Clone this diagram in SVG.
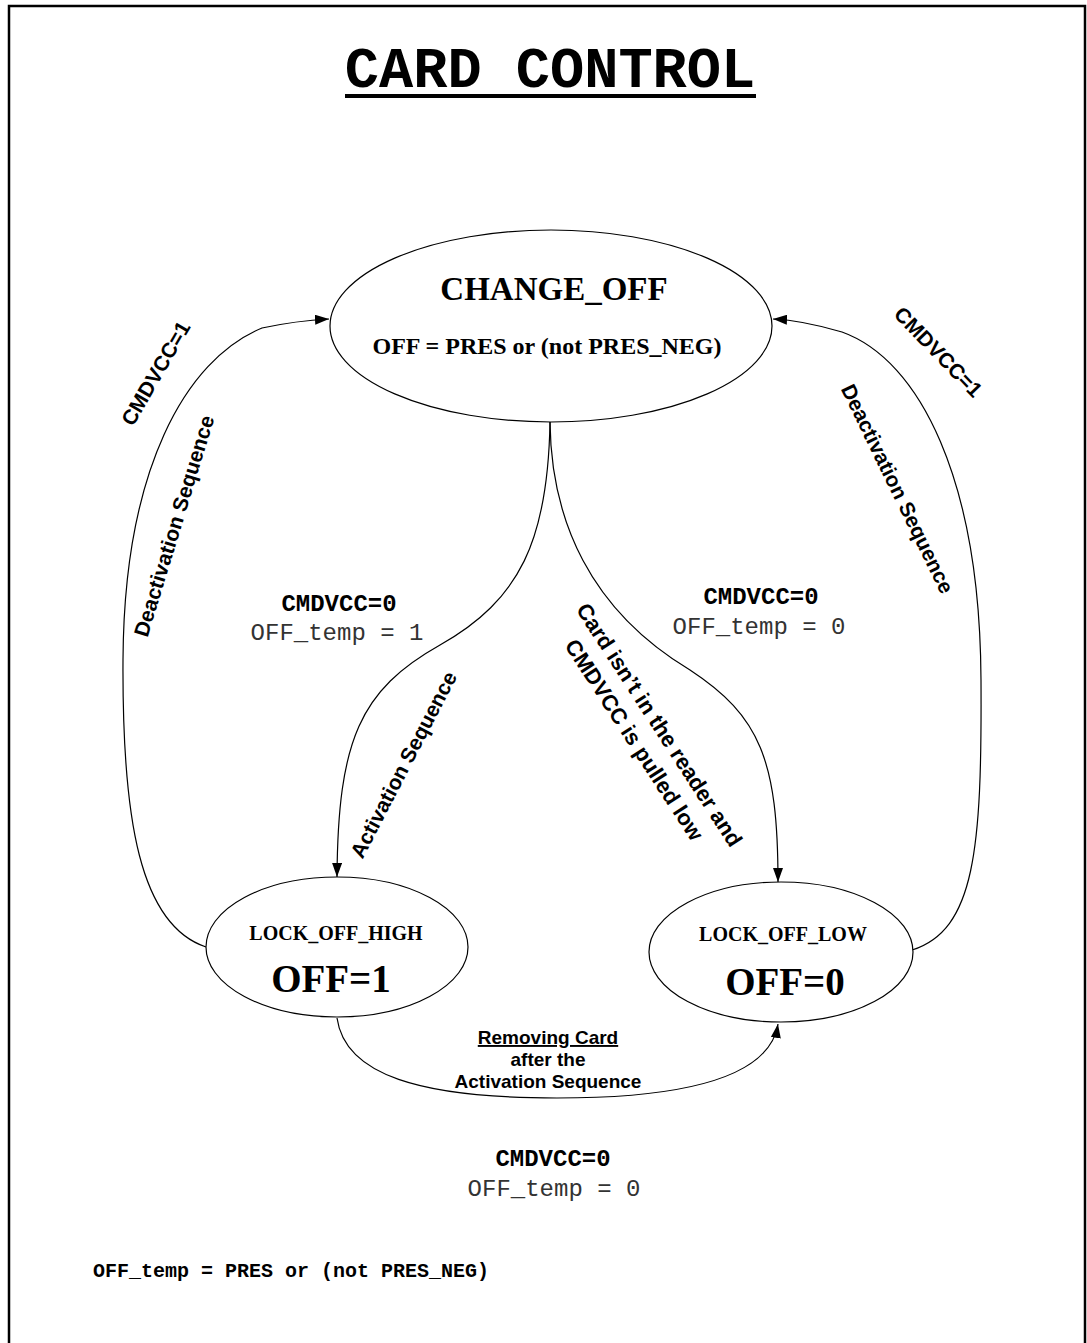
<svg xmlns="http://www.w3.org/2000/svg" width="1087" height="1343" viewBox="0 0 1087 1343">
<style>
.mono{font-family:"Liberation Mono","Courier New",monospace}
.serif{font-family:"Liberation Serif","Times New Roman",serif;font-weight:bold}
.sans{font-family:"Liberation Sans",Arial,sans-serif;font-weight:bold}
.node{fill:#fff;stroke:#000;stroke-width:1.2}
.edge{fill:none;stroke:#000;stroke-width:1.2}
.lbl{font-size:21px}
</style>
<defs>
<marker id="arr" markerUnits="userSpaceOnUse" markerWidth="14" markerHeight="10" refX="14" refY="5" orient="auto">
<path d="M0,0 L14,5 L0,10 z" fill="#000"/>
</marker>
</defs>
<rect width="1087" height="1343" fill="#fff"/>
<rect x="9" y="6" width="1076" height="1360" fill="none" stroke="#000" stroke-width="2.5"/>
<g id="title">
<text class="mono" x="550" y="87" font-size="57" font-weight="bold" text-anchor="middle">CARD CONTROL</text>
<line x1="345" y1="96" x2="756" y2="96" stroke="#000" stroke-width="4"/>
</g>
<g id="connectors">
<path class="edge" d="M206,947 C140,925 122,820 123,660 C124,470 185,360 262,328 C290,322 310,320 329,319" marker-end="url(#arr)"/>
<path class="edge" d="M912,950 C975,930 982,850 981,680 C980,480 920,360 842,332 C815,324 795,320 773,319" marker-end="url(#arr)"/>
<path class="edge" d="M550,422 C548,540 520,600 440,645 C360,690 338,740 337,877" marker-end="url(#arr)"/>
<path class="edge" d="M550,422 C551,520 590,610 690,670 C760,716 778,760 778,882" marker-end="url(#arr)"/>
<path class="edge" d="M337,1018 C345,1075 420,1098 557,1098 C690,1098 770,1075 778,1024" marker-end="url(#arr)"/>
</g>
<g id="change_off">
<ellipse class="node" cx="551" cy="326" rx="221" ry="96"/>
<text class="serif" x="554" y="300" font-size="33" text-anchor="middle">CHANGE_OFF</text>
<text class="serif" x="547" y="354" font-size="24" text-anchor="middle">OFF = PRES or (not PRES_NEG)</text>
</g>
<g id="lock_off_high">
<ellipse class="node" cx="337" cy="947" rx="131" ry="70"/>
<text class="serif" x="336" y="940" font-size="20" text-anchor="middle">LOCK_OFF_HIGH</text>
<text class="serif" x="331" y="992" font-size="39" text-anchor="middle">OFF=1</text>
</g>
<g id="lock_off_low">
<ellipse class="node" cx="781" cy="952" rx="132" ry="70"/>
<text class="serif" x="783" y="941" font-size="20" text-anchor="middle">LOCK_OFF_LOW</text>
<text class="serif" x="785" y="995" font-size="39" text-anchor="middle">OFF=0</text>
</g>
<g id="labels">
<text class="sans lbl" text-anchor="middle" transform="translate(162,377) rotate(-60)">CMDVCC=1</text>
<text class="sans lbl" text-anchor="middle" transform="translate(181,528) rotate(-73)">Deactivation Sequence</text>
<text class="sans lbl" text-anchor="middle" transform="translate(933,357) rotate(46)">CMDVCC=1</text>
<text class="sans lbl" text-anchor="middle" transform="translate(891,492) rotate(64)">Deactivation Sequence</text>
<text class="sans lbl" text-anchor="middle" transform="translate(410,768) rotate(-62.6)">Activation Sequence</text>
<text class="sans" font-size="22" text-anchor="middle" transform="translate(653,729) rotate(57)">Card isn’t in the reader and</text>
<text class="sans" font-size="22" text-anchor="middle" transform="translate(628,744) rotate(57)">CMDVCC is pulled low</text>
<text class="mono" x="339" y="611" font-size="24" font-weight="bold" text-anchor="middle">CMDVCC=0</text>
<text class="mono" x="337" y="640" font-size="24" fill="#333" text-anchor="middle" style="white-space:pre">OFF_temp = 1</text>
<text class="mono" x="761" y="604" font-size="24" font-weight="bold" text-anchor="middle">CMDVCC=0</text>
<text class="mono" x="759" y="634" font-size="24" fill="#333" text-anchor="middle" style="white-space:pre">OFF_temp = 0</text>
<text class="sans" x="548" y="1044" font-size="19" text-anchor="middle" text-decoration="underline">Removing Card</text>
<text class="sans" x="548" y="1066" font-size="19" text-anchor="middle">after the</text>
<text class="sans" x="548" y="1088" font-size="19" text-anchor="middle">Activation Sequence</text>
<text class="mono" x="553" y="1166" font-size="24" font-weight="bold" text-anchor="middle">CMDVCC=0</text>
<text class="mono" x="554" y="1196" font-size="24" fill="#333" text-anchor="middle" style="white-space:pre">OFF_temp = 0</text>
<text class="mono" x="93" y="1277" font-size="20" font-weight="bold" style="white-space:pre">OFF_temp = PRES or (not PRES_NEG)</text>
</g>
</svg>
